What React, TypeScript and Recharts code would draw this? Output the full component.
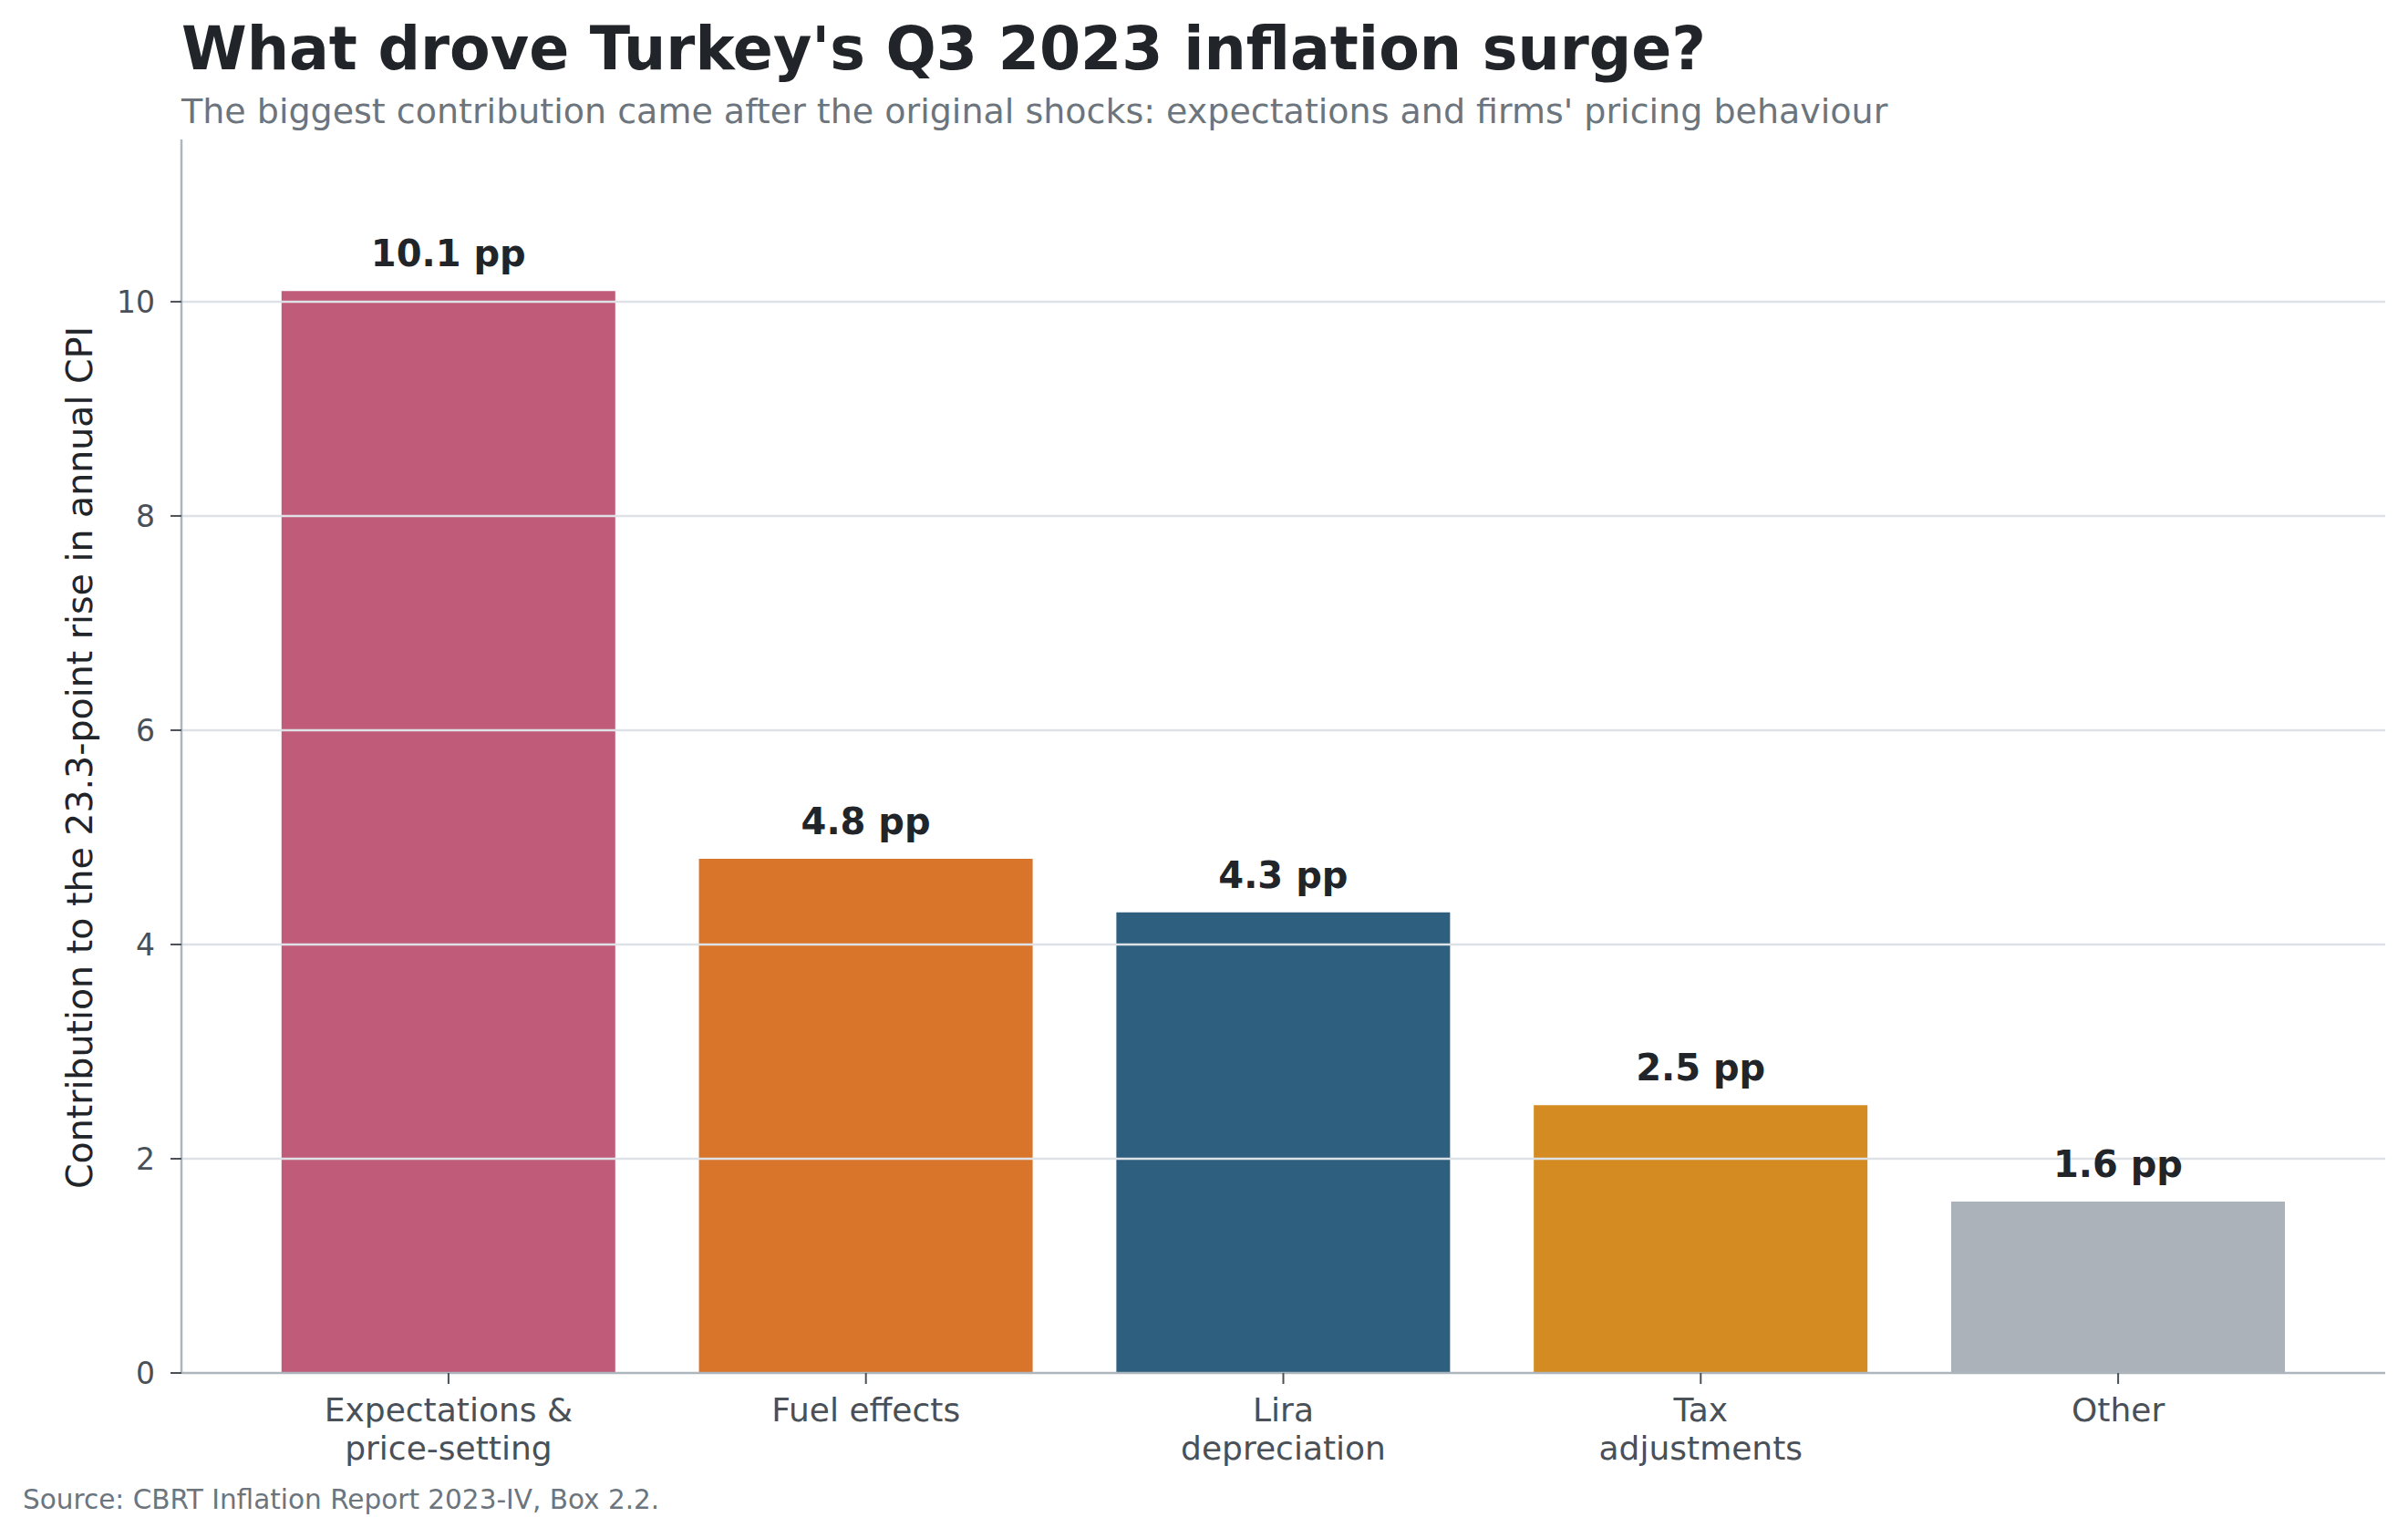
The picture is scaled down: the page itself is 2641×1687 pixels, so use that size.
import React from 'react';
import { BarChart, Bar, XAxis, YAxis, Cell, LabelList, ReferenceLine } from 'recharts';

const categories = [
  'Expectations &\nprice-setting',
  'Fuel effects',
  'Lira\ndepreciation',
  'Tax\nadjustments',
  'Other',
];
const contributions = [10.1, 4.8, 4.3, 2.5, 1.6];
const barColors = ['#c05b79', '#d9752b', '#2e5f7f', '#d38b22', '#abb2b9'];
const yTicks = [0, 2, 4, 6, 8, 10];
const gridTicks = [2, 4, 6, 8, 10];
const yMax = 11.514;

const titleText = "What drove Turkey's Q3 2023 inflation surge?";
const subtitleText =
  "The biggest contribution came after the original shocks: expectations and firms' pricing behaviour";
const yLabelText = 'Contribution to the 23.3-point rise in annual CPI';
const sourceText = 'Source: CBRT Inflation Report 2023-IV, Box 2.2.';

const data = categories.map((c, i) => ({ category: c, value: contributions[i] }));

const FONT = "'DejaVu Sans', sans-serif";
const W = 2641;
const H = 1687;

const XTick = (props: any) => {
  const { x, y, payload } = props;
  const lines = String(payload.value).split('\n');
  return (
    <g>
      <text x={x} y={y} textAnchor="middle" fontFamily={FONT} fontSize={36} fill="#495057">
        {lines.map((l, i) => (
          <tspan key={i} x={x} dy={i === 0 ? 41 : 42}>
            {l}
          </tspan>
        ))}
      </text>
    </g>
  );
};

const ValueLabel = (props: any) => {
  const { x, y, width, value } = props;
  return (
    <text
      x={Number(x) + Number(width) / 2}
      y={Number(y) - 27}
      textAnchor="middle"
      fontFamily={FONT}
      fontWeight="bold"
      fontSize={40}
      fill="#212529"
    >
      {`${Number(value).toFixed(1)} pp`}
    </text>
  );
};

export default function App() {
  return (
    <div style={{ position: 'absolute', left: 0, top: 0, width: W, height: H, background: '#fff' }}>
      <BarChart
        width={W}
        height={H}
        data={data}
        margin={{ top: 153, left: 79, right: 25, bottom: 81 }}
        barCategoryGap="10%"
      >
        <XAxis
          dataKey="category"
          height={100}
          padding={{ left: 64, right: 64 }}
          interval={0}
          tick={<XTick />}
          tickSize={12}
          tickMargin={0}
          axisLine={{ stroke: '#adb5bd', strokeWidth: 2.5 }}
          tickLine={{ stroke: '#495057', strokeWidth: 2 }}
        />
        <YAxis
          width={120}
          domain={[0, yMax]}
          ticks={yTicks}
          allowDataOverflow
          tickSize={12}
          tickMargin={17}
          tick={{ fontFamily: FONT, fontSize: 33, fill: '#495057' }}
          axisLine={{ stroke: '#adb5bd', strokeWidth: 2.5 }}
          tickLine={{ stroke: '#495057', strokeWidth: 2 }}
        />
        <Bar dataKey="value" isAnimationActive={false}>
          {data.map((d, i) => (
            <Cell key={d.category} fill={barColors[i]} />
          ))}
          <LabelList dataKey="value" content={<ValueLabel />} />
        </Bar>
        {gridTicks.map((t) => (
          <ReferenceLine key={t} y={t} stroke="#dee2e6" strokeWidth={2.5} />
        ))}
      </BarChart>
      <svg
        width={W}
        height={H}
        style={{ position: 'absolute', left: 0, top: 0, pointerEvents: 'none' }}
      >
        <text x={199} y={76} fontFamily={FONT} fontWeight="bold" fontSize={65} fill="#212529">
          {titleText}
        </text>
        <text x={199} y={135} fontFamily={FONT} fontSize={38} fill="#6c757d">
          {subtitleText}
        </text>
        <text
          x={87}
          y={831}
          transform="rotate(-90 87 831)"
          textAnchor="middle"
          dominantBaseline="central"
          fontFamily={FONT}
          fontSize={39.5}
          fill="#212529"
        >
          {yLabelText}
        </text>
        <text x={25} y={1655} fontFamily={FONT} fontSize={29.5} fill="#6c757d">
          {sourceText}
        </text>
      </svg>
    </div>
  );
}
